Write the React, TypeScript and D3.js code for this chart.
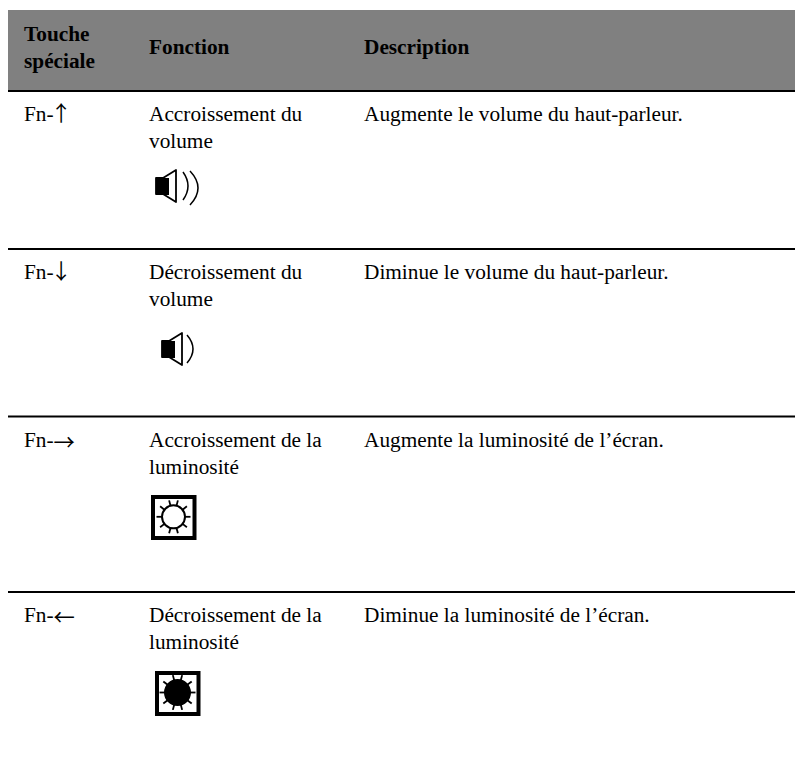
import React from 'react';
import * as d3 from 'd3';

const headers = [['Touche', 'spéciale'], ['Fonction'], ['Description']];
const keyPrefix = 'Fn-';
const keyArrows = ['↑', '↓', '→', '←'];
const functions = [
    ['Accroissement du', 'volume'],
    ['Décroissement du', 'volume'],
    ['Accroissement de la', 'luminosité'],
    ['Décroissement de la', 'luminosité'],
];
const descriptions = [
    'Augmente le volume du haut-parleur.',
    'Diminue le volume du haut-parleur.',
    'Augmente la luminosité de l’écran.',
    'Diminue la luminosité de l’écran.',
];
const rowIndex = [0, 1, 2, 3];
const ruleY = [91, 249, 416.5, 592];

const width = 795;
const height = 762;
const font = '"Liberation Serif", serif';

const x = d3.scaleOrdinal<number, number>().domain([0, 1, 2]).range([24, 149, 364]);
const y = d3.scaleOrdinal<number, number>().domain(rowIndex).range(ruleY);

// the CJK arrows sit a little off from where the reference has them
const arrowShift = [[-3, 0], [-3, 0], [0, 3], [0, 3]];

// one arc of sound, bulging to the right
const wave = (x0: number, y0: number, y1: number, bulge: number) => {
    const p = d3.path();
    p.moveTo(x0, y0);
    p.quadraticCurveTo(x0 + bulge * 2, (y0 + y1) / 2, x0, y1);
    return p.toString();
};

const Speaker: React.FC<{ waves: string[] }> = ({ waves }) => {
    const cone = d3.path();
    cone.moveTo(0, 8);
    cone.lineTo(7, 8);
    cone.lineTo(20, 0);
    cone.lineTo(20, 32);
    cone.lineTo(7, 24);
    cone.lineTo(0, 24);
    cone.closePath();
    return (
        <g>
            <path d={cone.toString()} fill="#fff" stroke="#000" strokeWidth={1.8} strokeLinejoin="round" />
            <rect x={0} y={8} width={13} height={17} fill="#000" />
            {waves.map((d, i) => <path key={i} d={d} fill="none" stroke="#000" strokeWidth={1.5} />)}
        </g>
    );
};

const sunAngles = [0, 38, 75, 105, 142, 180, 218, 255, 285, 322];

const Sun: React.FC<{ filled: boolean; cx: number; cy: number; r: number }> = ({ filled, cx, cy, r }) => (
    <g>
        <rect x={2} y={2} width={41.5} height={41} fill="#fff" stroke="#000" strokeWidth={4} />
        <circle cx={cx} cy={cy} r={r} fill={filled ? '#000' : '#fff'} stroke="#000" strokeWidth={2} />
        {sunAngles.map(deg => {
            const a = (deg * Math.PI) / 180;
            return (
                <line key={deg}
                    x1={cx + Math.cos(a) * r} y1={cy + Math.sin(a) * r}
                    x2={cx + Math.cos(a) * (r + 5.5)} y2={cy + Math.sin(a) * (r + 5.5)}
                    stroke="#000" strokeWidth={1.8} />
            );
        })}
    </g>
);

const icons = [
    { at: [156, 170], el: <Speaker waves={[wave(27, 2, 30, 5), wave(34, 1, 35, 8)]} /> },
    { at: [162, 333], el: <Speaker waves={[wave(25, 2, 30, 6)]} /> },
    { at: [151, 495], el: <Sun filled={false} cx={22.5} cy={21.8} r={11.5} /> },
    { at: [155, 671], el: <Sun filled cx={22.5} cy={21.5} r={12.5} /> },
];

const App: React.FC = () => {
    return (
        <svg width={width} height={height} viewBox={`0 0 ${width} ${height}`}
            style={{ position: 'absolute', left: 0, top: 0, background: '#fff' }}
            fontFamily={font} fontSize={21.3} fill="#000">
            <rect x={8} y={10} width={787} height={80} fill="#808080" />
            {headers.map((lines, c) => lines.map((line, i) => (
                <text key={`${c}-${i}`} x={x(c)} y={lines.length > 1 ? 41 + i * 27 : 54} fontWeight="bold">{line}</text>
            )))}
            {rowIndex.map(r => (
                <g key={r}>
                    <line x1={8} x2={795} y1={y(r)} y2={y(r)} stroke="#000" strokeWidth={2} />
                    <text x={x(0)} y={y(r) + 30.4}>
                        {keyPrefix}
                        <tspan fontFamily='"Noto Sans CJK JP"' dx={arrowShift[r][0]} dy={arrowShift[r][1]}>{keyArrows[r]}</tspan>
                    </text>
                    {functions[r].map((line, i) => (
                        <text key={i} x={x(1)} y={y(r) + 30.4 + i * 27}>{line}</text>
                    ))}
                    <text x={x(2)} y={y(r) + 30.4}>{descriptions[r]}</text>
                    <g transform={`translate(${icons[r].at.join(',')})`}>{icons[r].el}</g>
                </g>
            ))}
        </svg>
    );
};

export default App;
